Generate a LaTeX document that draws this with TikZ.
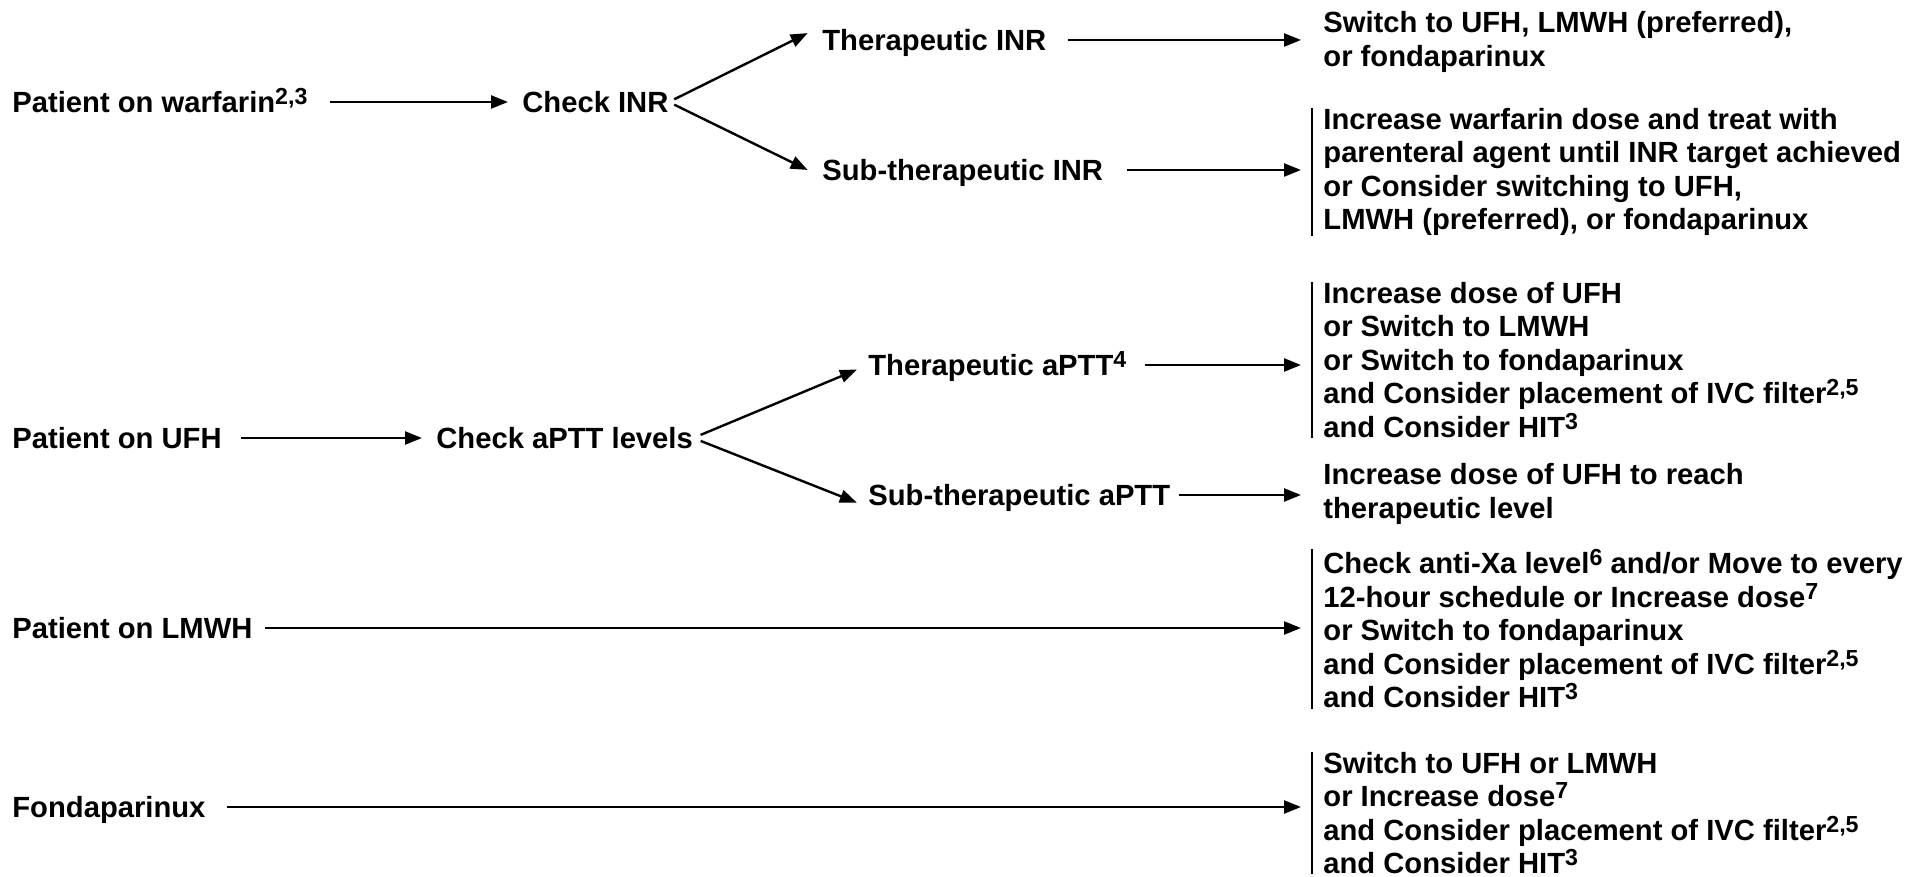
\documentclass[tikz,border=0pt]{standalone}
\usepackage{fontspec}
\setmainfont{Liberation Sans}
\usetikzlibrary{arrows.meta}

\tikzstyle{stagetext}=[anchor=west, inner sep=0, text height=10.4pt, text depth=0pt]
\tikzstyle{actiontext}=[anchor=west, align=left, inner xsep=5.5pt, inner ysep=0]
\tikzstyle{flowline}=[line width=1.2pt, -{Triangle[length=8.5pt, width=6.5pt]}]
\tikzstyle{barline}=[line width=1.1pt]
\newcommand{\fnref}[1]{\raisebox{4pt}{\fontsize{11.6}{11.6}\selectfont #1}}

\begin{document}
\begin{tikzpicture}[x=0.5pt, y=-0.5pt, font=\fontsize{14.6}{16.75}\selectfont\bfseries]
  \useasboundingbox (0,0) rectangle (1908,877);

  % warfarin
  \node[stagetext] (W) at (12,102) {Patient on warfarin\fnref{2,3}};
  \node[stagetext] (WC) at (522,102) {Check INR};
  \node[stagetext] (WT) at (822,40) {Therapeutic INR};
  \node[stagetext] (WS) at (822,170) {Sub-therapeutic INR};
  \node[actiontext] (WTA) at (1312,42) {Switch to UFH, LMWH (preferred),\\or fondaparinux};
  \node[actiontext] (WSA) at (1312,172) {Increase warfarin dose and treat with\\parenteral agent until INR target achieved\\or Consider switching to UFH,\\LMWH (preferred), or fondaparinux};
  \draw[flowline, shorten <=11pt, shorten >=7pt] (W.east) -- (WC.west);
  \draw[flowline, shorten <=3pt, shorten >=8pt] (WC.east) -- ([yshift=7pt]WT.west);
  \draw[flowline, shorten <=3pt, shorten >=8pt] (WC.east) -- ([yshift=-3.5pt]WS.west);
  \draw[flowline, shorten <=10.5pt, shorten >=5.5pt] (WT.east) -- (WT.east -| WTA.west);
  \draw[flowline, shorten <=12pt, shorten >=5.5pt] (WS.east) -- (WS.east -| WSA.west);
  \draw[barline] (WSA.north west) -- (WSA.south west);

  % UFH
  \node[stagetext] (U) at (12,438) {Patient on UFH};
  \node[stagetext] (UC) at (436,438) {Check aPTT levels};
  \node[stagetext] (UT) at (868,365) {Therapeutic aPTT\fnref{4}};
  \node[stagetext] (US) at (868,495) {Sub-therapeutic aPTT};
  \node[actiontext] (UTA) at (1312,360) {Increase dose of UFH\\or Switch to LMWH\\or Switch to fondaparinux\\and Consider placement of IVC filter\fnref{2,5}\\and Consider HIT\fnref{3}};
  \node[actiontext] (USA) at (1312,494) {Increase dose of UFH to reach\\therapeutic level};
  \draw[flowline, shorten <=9.5pt, shorten >=7pt] (U.east) -- (UC.west);
  \draw[flowline, shorten <=4pt, shorten >=6pt] (UC.east) -- (UT.west);
  \draw[flowline, shorten <=4pt, shorten >=6pt] (UC.east) -- ([yshift=-6pt]US.west);
  \draw[flowline, shorten <=9pt, shorten >=5.5pt] (UT.east) -- (UT.east -| UTA.west);
  \draw[flowline, shorten <=4pt, shorten >=5.5pt] (US.east) -- (US.east -| USA.west);
  \draw[barline] (UTA.north west) -- (UTA.south west);

  % LMWH
  \node[stagetext] (L) at (12,628) {Patient on LMWH};
  \node[actiontext] (LA) at (1312,629) {Check anti-Xa level\fnref{6} and/or Move to every\\12-hour schedule or Increase dose\fnref{7}\\or Switch to fondaparinux\\and Consider placement of IVC filter\fnref{2,5}\\and Consider HIT\fnref{3}};
  \draw[flowline, shorten <=6pt, shorten >=5.5pt] (L.east) -- (L.east -| LA.west);
  \draw[barline] (LA.north west) -- (LA.south west);

  % fondaparinux
  \node[stagetext] (F) at (12,807) {Fondaparinux};
  \node[actiontext] (FA) at (1312,813) {Switch to UFH or LMWH\\or Increase dose\fnref{7}\\and Consider placement of IVC filter\fnref{2,5}\\and Consider HIT\fnref{3}};
  \draw[flowline, shorten <=10.5pt, shorten >=5.5pt] (F.east) -- (F.east -| FA.west);
  \draw[barline] (FA.north west) -- (FA.south west);
\end{tikzpicture}
\end{document}
